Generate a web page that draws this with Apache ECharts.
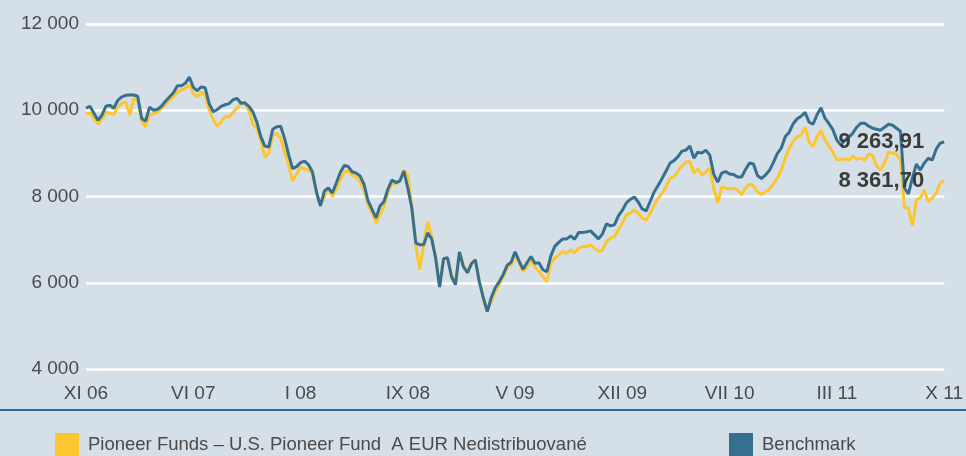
<!DOCTYPE html>
<html><head><meta charset="utf-8">
<script src="https://cdn.jsdelivr.net/npm/echarts@6/dist/echarts.min.js"></script>
<style>html,body{margin:0;padding:0;background:#d5dfe7}#c{width:966px;height:456px}</style>
</head><body><div id="c"></div>
<script>
const tickLabels = ['XI 06','VI 07','I 08','IX 08','V 09','XII 09','VII 10','III 11','X 11'];
const fundName = 'Pioneer Funds – U.S. Pioneer Fund  A EUR Nedistribuované';
const benchName = 'Benchmark';
const yMin = 4000, yMax = 12000, yStep = 2000;

const fundValues = [
9931,9938,9815,9676,9792,9954,9931,9908,10069,10162,
10192,9884,10271,10231,9746,9630,9884,9924,9954,10046,
10139,10231,10324,10416,10474,10509,10578,10393,10307,10416,
10347,10000,9792,9630,9723,9861,9838,9954,10046,10154,
10150,10000,9676,9584,9306,8913,9006,9422,9461,9353,
9029,8728,8358,8520,8682,8636,8613,8537,8081,7804,
7989,8197,7995,8174,8382,8567,8590,8497,8451,8335,
8150,7804,7619,7388,7572,7764,8081,8312,8289,8358,
8613,8497,7804,6879,6301,6879,7410,7087,6578,5900,
6555,6578,6162,5977,6717,6393,6255,6439,6532,6023,
5653,5376,5561,5792,5954,6139,6347,6416,6648,6463,
6255,6370,6532,6370,6261,6146,6030,6456,6571,6648,
6724,6687,6763,6687,6802,6840,6840,6879,6802,6724,
6763,6955,7034,7071,7226,7380,7572,7612,7688,7612,
7496,7457,7612,7804,7958,8074,8226,8421,8458,8590,
8705,8798,8805,8537,8636,8497,8567,8659,8197,7850,
8220,8197,8173,8190,8150,8035,8197,8289,8243,8104,
8046,8104,8174,8289,8428,8613,8890,9121,9283,9383,
9422,9607,9260,9156,9387,9526,9306,9168,9029,8844,
8867,8867,8844,8937,8867,8890,8844,8983,8960,8705,
8613,8775,9029,9006,8983,8844,7734,7734,7318,7919,
7966,8150,7873,7966,8081,8312,8361.70
];

const benchValues = [
10046,10092,9931,9769,9884,10092,10116,10046,10231,10312,
10347,10354,10354,10324,9815,9746,10069,10000,10023,10092,
10208,10307,10405,10566,10566,10624,10770,10532,10451,10543,
10520,10155,9965,10012,10092,10127,10155,10243,10277,10162,
10173,10092,9965,9723,9387,9168,9145,9561,9619,9630,
9341,8971,8647,8694,8786,8821,8740,8567,8104,7780,
8127,8197,8081,8312,8555,8717,8694,8573,8543,8474,
8278,7896,7700,7503,7780,7885,8174,8382,8324,8358,
8590,8197,7734,6925,6879,6879,7156,7017,6578,5900,
6555,6578,6139,5954,6717,6370,6231,6439,6532,6023,
5647,5330,5653,5885,6023,6185,6405,6474,6717,6509,
6312,6463,6608,6451,6463,6301,6255,6625,6844,6937,
7017,7017,7087,7006,7168,7168,7179,7202,7110,7017,
7133,7364,7318,7341,7549,7681,7850,7931,7989,7873,
7711,7665,7885,8104,8254,8416,8590,8775,8832,8925,
9052,9075,9168,8890,9029,9006,9075,8960,8520,8335,
8543,8578,8520,8509,8451,8451,8624,8775,8752,8486,
8416,8497,8601,8786,8994,9121,9387,9491,9688,9803,
9861,9954,9723,9676,9896,10058,9815,9688,9549,9306,
9191,9306,9376,9468,9607,9699,9699,9630,9584,9561,
9538,9607,9676,9653,9584,9514,8197,8058,8428,8752,
8613,8775,8890,8844,9098,9237,9263.91
];

const FONT = "'Liberation Sans', Arial, sans-serif";
const TXT = '#4a4a4a';
const YELLOW = '#fec62e';
const BLUE = '#36708e';

function groupThousands(s){ return s.replace(/\B(?=(\d{3})+(?!\d))/g, ' '); }
function fmtInt(v){ return groupThousands(String(Math.round(v))); }
function fmtDec(v){ const p = Number(v).toFixed(2).split('.'); return groupThousands(p[0]) + ',' + p[1]; }

const n = benchValues.length;
const labelStep = (n - 1) / (tickLabels.length - 1);
const categories = benchValues.map((_, i) => i);

function endMark(values){
  const last = values.length - 1;
  return {
    silent: true,
    symbol: 'circle',
    symbolSize: 0,
    animation: false,
    data: [{ coord: [last, values[last]], value: values[last] }],
    label: {
      show: true, position: 'left', distance: 20,
      formatter: p => fmtDec(p.value),
      color: '#3b3b3b', fontSize: 22, fontWeight: 'bold', fontFamily: FONT
    }
  };
}

const chart = echarts.init(document.getElementById('c'), null, {renderer: 'canvas'});
chart.setOption({
  animation: false,
  backgroundColor: '#d5dfe7',
  grid: { left: 86, right: 18, top: 24, bottom: 87, containLabel: false },
  legend: [
    { data: [fundName], left: 55, top: 433, padding: 0, itemWidth: 24, itemHeight: 24, icon: 'rect',
      itemGap: 9, textStyle: { color: TXT, fontSize: 18.5, fontFamily: FONT, padding: [0,0,0,4] } },
    { data: [benchName], left: 729, top: 433, padding: 0, itemWidth: 24, itemHeight: 24, icon: 'rect',
      textStyle: { color: TXT, fontSize: 18.5, fontFamily: FONT, padding: [0,0,0,4] } }
  ],
  xAxis: {
    type: 'category', data: categories, boundaryGap: false,
    axisLine: { show: false }, axisTick: { show: false }, splitLine: { show: false },
    axisLabel: {
      interval: labelStep - 1, margin: 15, color: TXT, fontSize: 19, fontFamily: FONT,
      formatter: (v, i) => tickLabels[Math.round(i / labelStep)]
    }
  },
  yAxis: {
    type: 'value', min: yMin, max: yMax, interval: yStep,
    axisLine: { show: false }, axisTick: { show: false },
    splitLine: { lineStyle: { color: '#ffffff', width: 2.5 } },
    axisLabel: { margin: 7, color: TXT, fontSize: 19, fontFamily: FONT, formatter: v => fmtInt(v) }
  },
  graphic: [
    { type: 'line', shape: { x1: 0, y1: 410, x2: 966, y2: 410 }, style: { stroke: '#2a6ea9', lineWidth: 2 }, silent: true }
  ],
  series: [
    { name: fundName, type: 'line', data: fundValues, showSymbol: false, symbol: 'none',
      lineStyle: { color: YELLOW, width: 3 }, itemStyle: { color: YELLOW }, z: 2,
      markPoint: endMark(fundValues) },
    { name: benchName, type: 'line', data: benchValues, showSymbol: false, symbol: 'none',
      lineStyle: { color: BLUE, width: 3 }, itemStyle: { color: BLUE }, z: 3,
      markPoint: endMark(benchValues) }
  ]
});
</script>
</body></html>
